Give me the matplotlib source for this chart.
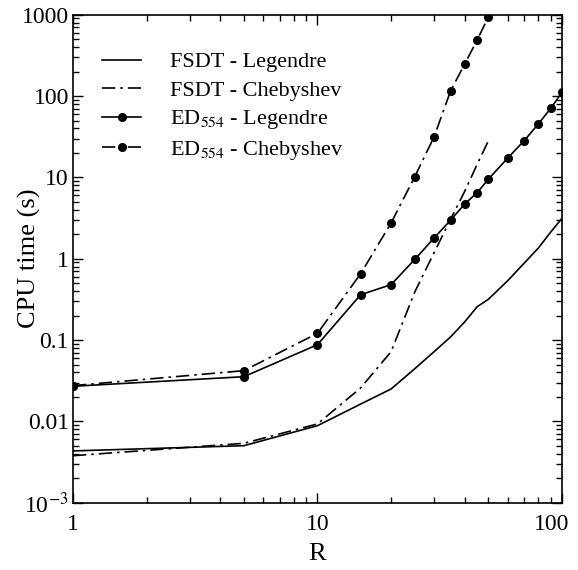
import numpy as np
import matplotlib
matplotlib.use("Agg")
import matplotlib.pyplot as plt
from matplotlib.transforms import ScaledTranslation

# ── données ──────────────────────────────────────────────────
R_fsdt_leg = [1, 5, 10, 15, 20, 25, 30, 35, 40, 45, 50, 60, 70, 80, 90, 100]
t_fsdt_leg = [0.00433, 0.00502, 0.00885, 0.0163, 0.025, 0.0444, 0.072, 0.109,
              0.167, 0.257, 0.317, 0.537, 0.88, 1.35, 2.13, 3.14]

R_fsdt_cheb = [1, 5, 10, 15, 20, 25, 30, 35, 40, 45, 50]
t_fsdt_cheb = [0.00378, 0.00537, 0.0093, 0.0257, 0.072, 0.39, 1.19, 3.04,
               6.73, 14.5, 28.1]

R_ed_leg = [1, 5, 10, 15, 20, 25, 30, 35, 40, 45, 50, 60, 70, 80, 90, 100]
t_ed_leg = [0.027, 0.0354, 0.0877, 0.36, 0.48, 0.98, 1.8, 2.97, 4.7, 6.5,
            9.5, 17.3, 28.2, 45.3, 70.7, 111]

R_ed_cheb = [1, 5, 10, 15, 20, 25, 30, 35, 40, 45, 50]
t_ed_cheb = [0.0275, 0.042, 0.121, 0.65, 2.75, 10.2, 31.6, 115, 248, 489, 940]

labels = ["FSDT - Legendre", "FSDT - Chebyshev",
          r"ED$_{554}$ - Legendre", r"ED$_{554}$ - Chebyshev"]

yticks = [1e-3, 1e-2, 1e-1, 1, 10, 100, 1000]
yticklabels = [r"10$^{-3}$", "0.01", "0.1", "1", "10", "100", "1000"]
xticks = [1, 10, 100]
xticklabels = ["1", "10", "100"]

# ── style ────────────────────────────────────────────────────
plt.rcParams["font.family"] = ["Liberation Serif", "DejaVu Serif"]
plt.rcParams["mathtext.fontset"] = "stix"

dashdot = (0, (8, 3, 1.5, 3))

fig = plt.figure(figsize=(5.78, 5.70), dpi=100)
ax = fig.add_axes([0.1263, 0.1181, 0.846, 0.8561])

ax.plot(R_fsdt_leg, t_fsdt_leg, color="black", lw=1.2, ls="-", label=labels[0])
ax.plot(R_fsdt_cheb, t_fsdt_cheb, color="black", lw=1.2, ls=dashdot, label=labels[1])
ax.plot(R_ed_leg, t_ed_leg, color="black", lw=1.2, ls="-", marker="o",
        ms=5.5, label=labels[2])
ax.plot(R_ed_cheb, t_ed_cheb, color="black", lw=1.2, ls=dashdot, marker="o",
        ms=5.5, label=labels[3])

ax.set_xscale("log")
ax.set_yscale("log")
ax.set_xlim(1, 100)
ax.set_ylim(1e-3, 1e3)

ax.set_xticks(xticks)
ax.set_xticklabels(xticklabels)
ax.set_yticks(yticks)
ax.set_yticklabels(yticklabels)

ax.tick_params(which="both", direction="in", top=True, right=True,
               labelsize=17, width=1)
ax.tick_params(which="major", length=7)
ax.tick_params(which="minor", length=4)
ax.tick_params(axis="y", which="major", pad=3)
ax.tick_params(axis="x", which="major", pad=8)
for s in ax.spines.values():
    s.set_linewidth(1.2)

# le "100" est décalé vers la gauche dans l'original
lab100 = ax.get_xticklabels()[-1]
lab100.set_transform(lab100.get_transform()
                     + ScaledTranslation(-0.10, 0, fig.dpi_scale_trans))

ax.set_xlabel("R", fontsize=19, labelpad=6)
ax.set_ylabel("CPU time (s)", fontsize=19)
ax.yaxis.set_label_coords(-0.066, 0.5)

ax.legend(loc="upper left", bbox_to_anchor=(0.019, 0.965), frameon=False,
          fontsize=16, handlelength=1.75, handletextpad=1.3, labelspacing=0.35)

plt.savefig("out.png", dpi=100)
